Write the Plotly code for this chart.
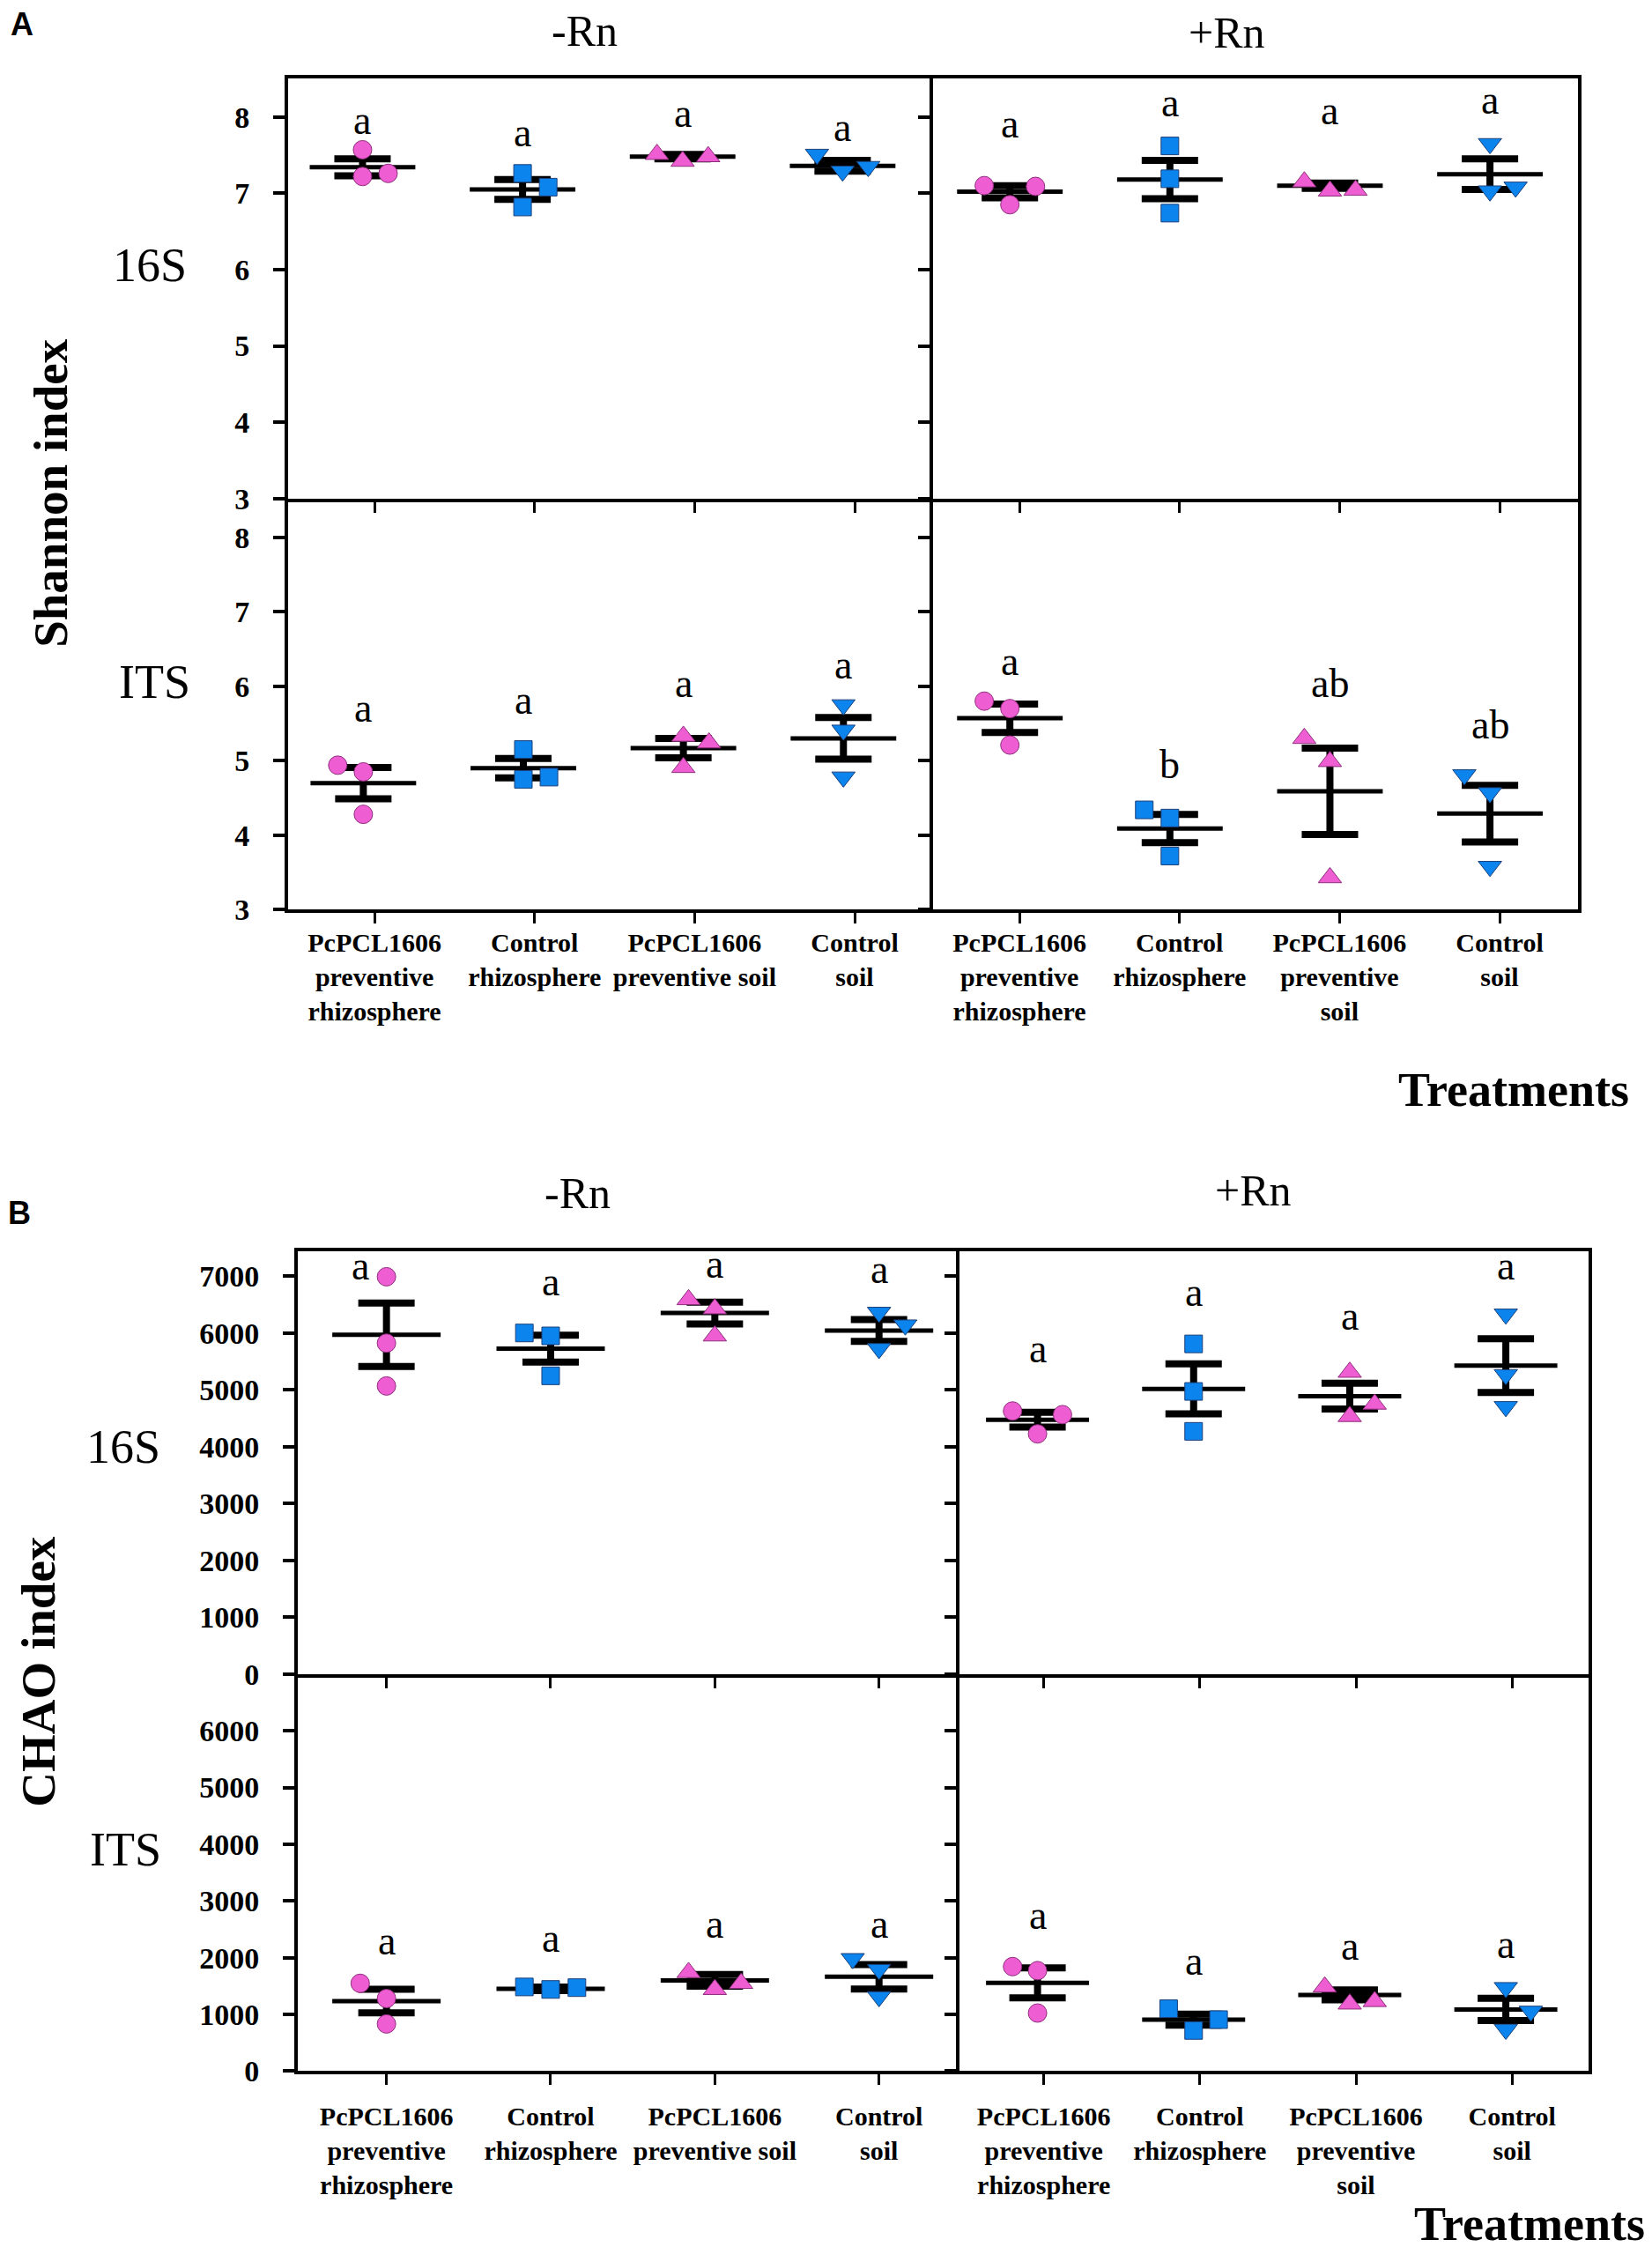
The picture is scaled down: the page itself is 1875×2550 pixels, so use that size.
import plotly.graph_objects as go

W, H = 1875, 2550

# category labels (bottom axes)
labels_minus = ['PcPCL1606<br>preventive<br>rhizosphere', 'Control<br>rhizosphere',
                'PcPCL1606<br>preventive soil', 'Control<br>soil']
labels_plus = ['PcPCL1606<br>preventive<br>rhizosphere', 'Control<br>rhizosphere',
               'PcPCL1606<br>preventive<br>soil', 'Control<br>soil']

# Shannon index, 16S, -Rn
sh16_minus_pts = [[7.57, 7.22, 7.26], [7.26, 7.08, 6.82], [7.51, 7.42, 7.48], [7.51, 7.29, 7.35]]
sh16_minus_mean = [7.34, 7.05, 7.48, 7.36]
sh16_minus_se = [0.11, 0.13, 0.03, 0.07]
sh16_minus_let = ['a', 'a', 'a', 'a']
sh16_minus_let_y = [7.84, 7.68, 7.93, 7.75]

# Shannon index, 16S, +Rn
sh16_plus_pts = [[7.10, 7.09, 6.85], [7.62, 7.19, 6.74], [7.15, 7.03, 7.04], [7.65, 7.03, 7.08]]
sh16_plus_mean = [7.02, 7.18, 7.10, 7.25]
sh16_plus_se = [0.08, 0.25, 0.035, 0.20]
sh16_plus_let = ['a', 'a', 'a', 'a']
sh16_plus_let_y = [7.79, 8.07, 7.97, 8.11]

# Shannon index, ITS, -Rn
shits_minus_pts = [[4.94, 4.85, 4.28], [5.15, 4.75, 4.78], [5.33, 5.24, 4.91], [5.75, 5.41, 4.78]]
shits_minus_mean = [4.70, 4.90, 5.17, 5.30]
shits_minus_se = [0.21, 0.13, 0.13, 0.28]
shits_minus_let = ['a', 'a', 'a', 'a']
shits_minus_let_y = [5.59, 5.70, 5.92, 6.17]

# Shannon index, ITS, +Rn
shits_plus_pts = [[5.80, 5.70, 5.21], [4.34, 4.23, 3.72], [5.30, 4.99, 3.43], [4.81, 4.57, 3.58]]
shits_plus_mean = [5.57, 4.09, 4.59, 4.29]
shits_plus_se = [0.19, 0.19, 0.58, 0.38]
shits_plus_let = ['a', 'b', 'ab', 'ab']
shits_plus_let_y = [6.22, 4.83, 5.92, 5.37]

# CHAO index, 16S, -Rn
ch16_minus_pts = [[6988, 5820, 5067], [5999, 5948, 5246], [6586, 6426, 5948], [6362, 6139, 5724]]
ch16_minus_mean = [5967, 5724, 6350, 6043]
ch16_minus_se = [557, 236, 192, 192]
ch16_minus_let = ['a', 'a', 'a', 'a']
ch16_minus_let_y = [7032, 6745, 7064, 6969]

# CHAO index, 16S, +Rn
ch16_plus_pts = [[4627, 4563, 4225], [5807, 4971, 4269], [5309, 4748, 4531], [6330, 5265, 4703]]
ch16_plus_mean = [4474, 5016, 4888, 5424]
ch16_plus_se = [128, 440, 227, 473]
ch16_plus_let = ['a', 'a', 'a', 'a']
ch16_plus_let_y = [5565, 6554, 6139, 7020]

# CHAO index, ITS, -Rn
chits_minus_pts = [[1548, 1280, 832], [1484, 1440, 1472], [1740, 1440, 1548], [1983, 1791, 1312]]
chits_minus_mean = [1235, 1452, 1600, 1663]
chits_minus_se = [208, 30, 102, 214]
chits_minus_let = ['a', 'a', 'a', 'a']
chits_minus_let_y = [2143, 2188, 2431, 2431]

# CHAO index, ITS, +Rn
chits_plus_pts = [[1843, 1772, 1024], [1100, 908, 717], [1484, 1184, 1228], [1472, 1056, 736]]
chits_plus_mean = [1555, 908, 1344, 1088]
chits_plus_se = [265, 96, 86, 195]
chits_plus_let = ['a', 'a', 'a', 'a']
chits_plus_let_y = [2591, 1791, 2047, 2079]

# styles
PINK, PINK_EDGE = '#EE5ED2', '#8E2C7C'
BLUE, BLUE_EDGE = '#0C84EE', '#1C3F78'
SYMBOLS = ['circle', 'square', 'triangle-up', 'triangle-down']
FILLS = [PINK, BLUE, PINK, BLUE]
EDGES = [PINK_EDGE, BLUE_EDGE, PINK_EDGE, BLUE_EDGE]
SIZES = [21, 20, 23, 23]
SERIF = 'Liberation Serif'
C, L, R = 0.0, -0.16, 0.16

panels = [
    dict(pts=sh16_minus_pts, mean=sh16_minus_mean, se=sh16_minus_se, let=sh16_minus_let, let_y=sh16_minus_let_y,
         xd=(319, 1051), yd=(82, 562), yr=[3, 8.5], yt=[3, 4, 5, 6, 7, 8], left=True, bottom=False, shift=-0.075,
         jit=[[C, C, R], [C, R, C], [L, C, R], [L, C, R]], ldx=[0, 0, 0, 0], labels=labels_minus, stand=-4),
    dict(pts=sh16_plus_pts, mean=sh16_plus_mean, se=sh16_plus_se, let=sh16_plus_let, let_y=sh16_plus_let_y,
         xd=(1051, 1783), yd=(82, 562), yr=[3, 8.5], yt=[3, 4, 5, 6, 7, 8], left=False, bottom=False, shift=-0.06,
         jit=[[L, R, C], [C, C, C], [L, C, R], [C, C, R]], ldx=[0, 0, 0, 0], labels=labels_plus, stand=-4),
    dict(pts=shits_minus_pts, mean=shits_minus_mean, se=shits_minus_se, let=shits_minus_let, let_y=shits_minus_let_y,
         xd=(319, 1051), yd=(562, 1032), yr=[3, 8.52], yt=[3, 4, 5, 6, 7, 8], left=True, bottom=True, shift=-0.07,
         jit=[[L, C, C], [C, C, R], [C, R, C], [C, C, C]], ldx=[0, 0, 0, 0], labels=labels_minus, stand=-4),
    dict(pts=shits_plus_pts, mean=shits_plus_mean, se=shits_plus_se, let=shits_plus_let, let_y=shits_plus_let_y,
         xd=(1051, 1783), yd=(562, 1032), yr=[3, 8.52], yt=[3, 4, 5, 6, 7, 8], left=False, bottom=True, shift=-0.06,
         jit=[[L, C, C], [L, C, C], [L, C, C], [L, C, C]], ldx=[0, 0, 0, 0], labels=labels_plus, stand=-4),
    dict(pts=ch16_minus_pts, mean=ch16_minus_mean, se=ch16_minus_se, let=ch16_minus_let, let_y=ch16_minus_let_y,
         xd=(330, 1081), yd=(1423, 1906), yr=[0, 7430], yt=list(range(0, 7001, 1000)), left=True, bottom=False,
         shift=0.0, jit=[[C, C, C], [L, C, C], [L, C, C], [C, R, C]], ldx=[-0.16, 0, 0, 0], labels=labels_minus,
         stand=10),
    dict(pts=ch16_plus_pts, mean=ch16_plus_mean, se=ch16_plus_se, let=ch16_plus_let, let_y=ch16_plus_let_y,
         xd=(1081, 1795), yd=(1423, 1906), yr=[0, 7430], yt=list(range(0, 7001, 1000)), left=False, bottom=False,
         shift=-0.04, jit=[[L, R, C], [C, C, C], [C, R, C], [C, C, C]], ldx=[0, 0, 0, 0], labels=labels_plus,
         stand=10),
    dict(pts=chits_minus_pts, mean=chits_minus_mean, se=chits_minus_se, let=chits_minus_let,
         let_y=chits_minus_let_y, xd=(330, 1081), yd=(1906, 2360), yr=[0, 7000], yt=list(range(0, 6001, 1000)),
         left=True, bottom=True, shift=0.0, jit=[[L, C, C], [L, C, R], [L, C, R], [L, C, C]], ldx=[0, 0, 0, 0],
         labels=labels_minus, stand=10),
    dict(pts=chits_plus_pts, mean=chits_plus_mean, se=chits_plus_se, let=chits_plus_let, let_y=chits_plus_let_y,
         xd=(1081, 1795), yd=(1906, 2360), yr=[0, 7000], yt=list(range(0, 6001, 1000)), left=False, bottom=True,
         shift=-0.04, jit=[[L, C, C], [L, R, C], [L, C, R], [C, R, C]], ldx=[0, 0, 0, 0], labels=labels_plus,
         stand=10),
]

fig = go.Figure()
annotations = []
layout = {}

for k, p in enumerate(panels, start=1):
    xa, ya = ('x', 'y') if k == 1 else ('x%d' % k, 'y%d' % k)
    s = p['shift']

    # mean lines
    mx, my = [], []
    for g, m in enumerate(p['mean']):
        mx += [g + s - 0.33, g + s + 0.33, None]
        my += [m, m, None]
    fig.add_trace(go.Scatter(x=mx, y=my, mode='lines', line=dict(color='black', width=5),
                             xaxis=xa, yaxis=ya, showlegend=False, hoverinfo='skip'))
    # SE bars
    fig.add_trace(go.Scatter(x=[g + s for g in range(4)], y=p['mean'], mode='markers',
                             marker=dict(size=1, color='rgba(0,0,0,0)'),
                             error_y=dict(type='data', array=p['se'], color='black', thickness=8, width=32),
                             xaxis=xa, yaxis=ya, showlegend=False, hoverinfo='skip'))
    # replicate points
    for g in range(4):
        fig.add_trace(go.Scatter(x=[g + s + j for j in p['jit'][g]], y=p['pts'][g], mode='markers',
                                 marker=dict(symbol=SYMBOLS[g], size=SIZES[g], color=FILLS[g],
                                             line=dict(color=EDGES[g], width=1)),
                                 xaxis=xa, yaxis=ya, showlegend=False, cliponaxis=False))
        annotations.append(dict(x=g + s + p['ldx'][g], y=p['let_y'][g], xref=xa, yref=ya, text=p['let'][g],
                                showarrow=False, yshift=10, font=dict(family=SERIF, size=46, color='black')))

    x0, x1 = p['xd']
    y0, y1 = p['yd']
    # shared edges are drawn once: top row mirrors its x line, right column mirrors its y line
    layout['xaxis' if k == 1 else 'xaxis%d' % k] = dict(
        domain=[x0 / W, x1 / W], anchor=ya, range=[-0.54, 3.49], tickvals=[0, 1, 2, 3],
        ticktext=p['labels'], showticklabels=p['bottom'], ticks='outside', ticklen=12, tickwidth=3,
        tickcolor='black', showline=True, mirror=not p['bottom'], linecolor='black', linewidth=4,
        showgrid=False, zeroline=False, ticklabelstandoff=p['stand'],
        tickfont=dict(family=SERIF, size=30, color='black', weight='bold'))
    layout['yaxis' if k == 1 else 'yaxis%d' % k] = dict(
        domain=[1 - y1 / H, 1 - y0 / H], anchor=xa, range=p['yr'], tickvals=p['yt'],
        showticklabels=p['left'], ticks='outside', ticklen=13, tickwidth=4, tickcolor='black',
        showline=True, mirror=not p['left'], linecolor='black', linewidth=4, showgrid=False, zeroline=False,
        ticklabelstandoff=20, tickfont=dict(family=SERIF, size=34, color='black', weight='bold'))


def note(text, x, y, size, bold=False, family=SERIF, angle=0):
    annotations.append(dict(text=text, x=x / W, y=1 - y / H, xref='paper', yref='paper', showarrow=False,
                            xanchor='center', yanchor='middle', textangle=angle,
                            font=dict(family=family, size=size, color='black',
                                      weight='bold' if bold else 'normal')))


note('A', 17, 20, 36, bold=True, family='Liberation Sans')
note('B', 14, 1379, 36, bold=True, family='Liberation Sans')
note('-Rn', 655, 27, 50)
note('+Rn', 1384, 29, 50)
note('-Rn', 647, 1356, 50)
note('+Rn', 1414, 1353, 50)
note('16S', 162, 295, 54)
note('ITS', 167, 772, 54)
note('16S', 132, 1646, 54)
note('ITS', 134, 2107, 54)
note('Shannon index', 50, 556, 55, bold=True, angle=-90)
note('CHAO index', 36, 1903, 55, bold=True, angle=-90)
note('Treatments', 1710, 1238, 54, bold=True)
note('Treatments', 1728, 2535, 54, bold=True)

fig.update_layout(width=W, height=H, margin=dict(l=0, r=0, t=0, b=0), plot_bgcolor='white',
                  paper_bgcolor='white', annotations=annotations, **layout)
fig.write_html('out.html')
